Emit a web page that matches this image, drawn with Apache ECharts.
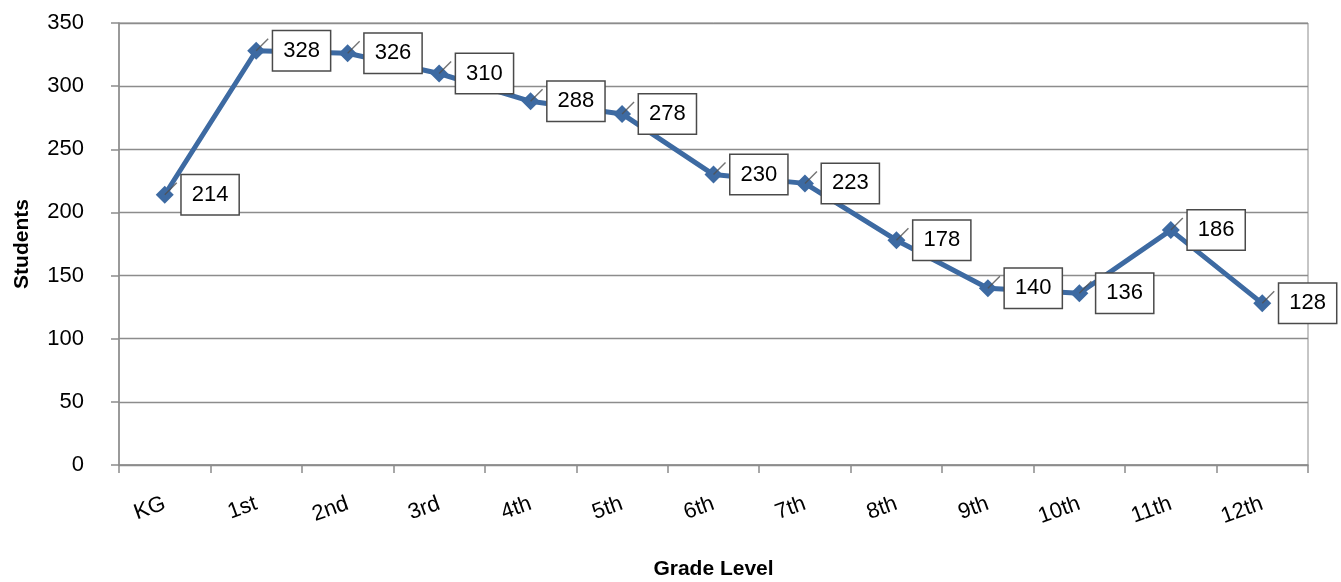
<!DOCTYPE html>
<html>
<head>
<meta charset="utf-8">
<script src="https://cdn.jsdelivr.net/npm/echarts@6/dist/echarts.min.js"></script>
<style>
  html, body { margin: 0; padding: 0; background: #fff; }
  #chart { width: 1341px; height: 582px; }
</style>
</head>
<body>
<div id="chart"></div>
<script>
const grades = ["KG", "1st", "2nd", "3rd", "4th", "5th", "6th", "7th", "8th", "9th", "10th", "11th", "12th"];
const students = [214, 328, 326, 310, 288, 278, 230, 223, 178, 140, 136, 186, 128];
const yTicks = { min: 0, max: 350, interval: 50 };

const FONT = "'Liberation Sans', Arial, sans-serif";
const GRID_GRAY = "#8c8c8c";
const LINE_BLUE = "#3d6aa2";

const chart = echarts.init(document.querySelector("#chart"));

chart.setOption({
  animation: false,
  textStyle: { fontFamily: FONT, color: "#000" },
  grid: {
    left: 119, right: 33, top: 23, bottom: 117,
    outerBoundsMode: "none", containLabel: false,
    show: true, borderColor: GRID_GRAY, borderWidth: 1
  },
  xAxis: {
    type: "category",
    data: grades,
    boundaryGap: true,
    name: "Grade Level",
    nameLocation: "middle",
    nameGap: 94,
    nameTextStyle: { fontSize: 21, fontWeight: "bold", fontFamily: FONT },
    axisLine: { lineStyle: { color: GRID_GRAY, width: 1.5 } },
    axisTick: { show: true, length: 8, alignWithLabel: false, lineStyle: { color: GRID_GRAY, width: 1.5 } },
    axisLabel: { rotate: 20, fontSize: 22, margin: 38, color: "#000", interval: 0 }
  },
  yAxis: {
    type: "value",
    min: yTicks.min,
    max: yTicks.max,
    interval: yTicks.interval,
    name: "Students",
    nameLocation: "middle",
    nameGap: 86,
    nameTextStyle: { fontSize: 21, fontWeight: "bold", fontFamily: FONT },
    axisLine: { show: true, lineStyle: { color: GRID_GRAY, width: 1.5 } },
    axisTick: { show: true, length: 8, lineStyle: { color: GRID_GRAY, width: 1.5 } },
    axisLabel: { fontSize: 22, margin: 35, color: "#000" },
    splitLine: { lineStyle: { color: GRID_GRAY, width: 1.3 } }
  },
  series: [
    {
      type: "line",
      data: students,
      z: 3,
      symbol: "diamond",
      symbolSize: 18,
      lineStyle: { color: LINE_BLUE, width: 5 },
      itemStyle: { color: LINE_BLUE },
      label: {
        show: true,
        position: "right",
        distance: 8,
        fontSize: 22,
        color: "#000",
        backgroundColor: "#fff",
        borderColor: "#4a4a4a",
        borderWidth: 1.5,
        padding: [10, 10, 7, 10]
      }
    },
    {
      type: "scatter",
      data: students,
      z: 4,
      silent: true,
      symbol: "path://M0,14 L14,0",
      symbolSize: 12,
      symbolOffset: [6, -6],
      itemStyle: { color: "none", borderColor: "#505050", borderWidth: 1.4 }
    }
  ]
});
</script>
</body>
</html>
